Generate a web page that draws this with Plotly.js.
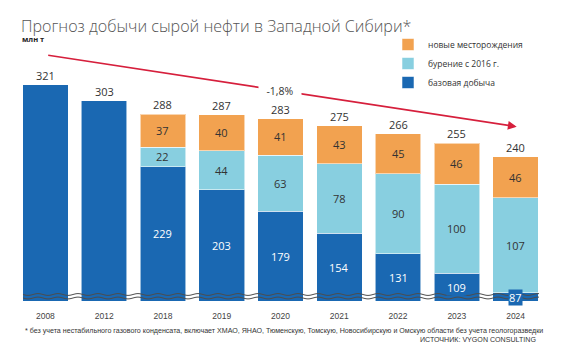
<!DOCTYPE html>
<html>
<head>
<meta charset="utf-8">
<script src="https://cdn.plot.ly/plotly-3.0.1.min.js"></script>
<style>html,body{margin:0;padding:0;background:#fff;}#chart{width:570px;height:358px;}</style>
</head>
<body>
<div id="chart"></div>
<script>
// ---- data ----
const years = ['2008', '2012', '2018', '2019', '2020', '2021', '2022', '2023', '2024'];
const baseProduction = [321, 303, 229, 203, 179, 154, 131, 109, 87];
const drillingSince2016 = [null, null, 22, 44, 63, 78, 90, 100, 107];
const newFields = [null, null, 37, 40, 41, 43, 45, 46, 46];
const totals = [321, 303, 288, 287, 283, 275, 266, 255, 240];
const seriesNames = ['базовая добыча', 'бурение с 2016 г.', 'новые месторождения'];
const trendLabel = '-1,8%';
const unitLabel = 'млн т';
const titleText = 'Прогноз добычи сырой нефти в Западной Сибири*';
const footnote = '* без учета нестабильного газового конденсата, включает ХМАО, ЯНАО, Тюменскую, Томскую, Новосибирскую и Омскую области без учета геологоразведки';
const sourceText = 'ИСТОЧНИК: VYGON CONSULTING';

// ---- styles ----
const colors = ['#1a68b2', '#88cfe0', '#f2a250'];
const textColors = ['#ffffff', '#333333', '#333333'];
const W = 570, H = 358;
const M = {l: 16, r: 25, t: 41, b: 57};
const yMin = 78, pxPerUnit = 0.89;
const plotH = H - M.t - M.b, plotW = W - M.l - M.r;
const yMax = yMin + plotH / pxPerUnit;
const px2x = px => (px - M.l) / plotW;
const px2y = py => (H - M.b - py) / plotH;
const numFont = {family: 'Open Sans, Noto Sans, sans-serif', size: 11};
const smallFont = 'Liberation Sans, Arial, sans-serif';

const series = [baseProduction, drillingSince2016, newFields];
const traces = series.map((vals, i) => ({
  type: 'bar', x: years, y: vals, name: seriesNames[i],
  marker: {color: colors[i], line: {color: 'rgba(255,255,255,0.55)', width: 1}},
  hoverinfo: 'skip'
}));

const annotations = [];
// segment labels (category axis: annotation x given as category index)
years.forEach((yr, j) => {
  let cum = 0;
  series.forEach((vals, i) => {
    const v = vals[j];
    if (v == null) return;
    const lo = Math.max(cum, yMin), hi = cum + v;
    cum = hi;
    if (vals === baseProduction && drillingSince2016[j] == null) return; // single bars show total only
    annotations.push({
      x: j, y: (lo + hi) / 2, xref: 'x', yref: 'y', text: String(v), showarrow: false,
      font: Object.assign({}, numFont, {color: textColors[i]}),
      bgcolor: i === 0 ? colors[0] : 'rgba(0,0,0,0)', borderpad: 0,
      xanchor: 'center', yanchor: 'middle'
    });
  });
  annotations.push({
    x: j, y: totals[j], xref: 'x', yref: 'y', text: String(totals[j]), showarrow: false,
    font: Object.assign({}, numFont, {color: '#333333'}), xanchor: 'center', yanchor: 'bottom', yshift: 0
  });
});

// trend arrow
const tail = [46.7, 55], head = [516.7, 126.7];
annotations.push({
  x: px2x(head[0]), y: px2y(head[1]), xref: 'paper', yref: 'paper', text: '',
  xanchor: 'center', yanchor: 'middle',
  showarrow: true, ax: tail[0] - head[0], ay: tail[1] - head[1],
  arrowcolor: '#d61f3c', arrowwidth: 1.6, arrowhead: 2, arrowsize: 1.1, standoff: 0
});
annotations.push({
  x: px2x(280), y: px2y(90.5), xref: 'paper', yref: 'paper', text: trendLabel, showarrow: false,
  xanchor: 'center', yanchor: 'middle',
  font: {family: 'Open Sans, sans-serif', size: 10.5, color: '#333'}, bgcolor: '#ffffff', width: 36, borderpad: 3
});
annotations.push({
  x: px2x(20), y: px2y(38.5), xref: 'paper', yref: 'paper', text: '<b>' + unitLabel + '</b>', showarrow: false,
  xanchor: 'left', yanchor: 'middle', font: {family: 'Open Sans, sans-serif', size: 7.5, color: '#222'}
});
annotations.push({
  x: px2x(23), y: px2y(331), xref: 'paper', yref: 'paper', text: footnote, showarrow: false,
  xanchor: 'left', yanchor: 'middle', font: {family: smallFont, size: 7.1, color: '#333'}
});
annotations.push({
  x: px2x(538), y: px2y(340), xref: 'paper', yref: 'paper', text: sourceText, showarrow: false,
  xanchor: 'right', yanchor: 'middle', font: {family: smallFont, size: 7.1, color: '#333'}
});

// axis-break wavy lines
function wave(py, x0, x1) {
  let d = '';
  for (let px = x0; px <= x1; px += 1) {
    const yy = py + 0.9 * Math.sin((px - x0) / 20 * 2 * Math.PI);
    d += (d ? ' L ' : 'M ') + px2x(px).toFixed(5) + ',' + px2y(yy).toFixed(5);
  }
  return d;
}
const shapes = [294.5, 298].map(py => ({
  type: 'path', xref: 'paper', yref: 'paper', path: wave(py, 23, 539),
  line: {color: '#4d4d4d', width: 1}
}));

const layout = {
  width: W, height: H, autosize: false,
  margin: M,
  paper_bgcolor: '#fff', plot_bgcolor: '#fff',
  barmode: 'stack', bargap: 0.225,
  showlegend: true,
  legend: {
    x: px2x(388), y: px2y(30), xanchor: 'left', yanchor: 'top', traceorder: 'reversed',
    font: {family: 'Open Sans, sans-serif', size: 8.5, color: '#333'}, bgcolor: 'rgba(0,0,0,0)'
  },
  title: {
    text: titleText, x: 21 / W, xref: 'container', xanchor: 'left',
    y: 1 - 31.5 / H, yref: 'container', yanchor: 'bottom',
    font: {family: 'Open Sans, sans-serif', size: 16.1, weight: 300, color: '#555'}
  },
  xaxis: {
    type: 'category', range: [-0.5, years.length - 0.5], showgrid: false, zeroline: false, showline: false, ticks: '',
    ticklabelstandoff: 8,
    tickfont: {family: smallFont, size: 8.5, color: '#444'}
  },
  yaxis: {
    range: [yMin, yMax], visible: false, showgrid: false, zeroline: false
  },
  annotations: annotations,
  shapes: shapes
};

Plotly.newPlot('chart', traces, layout, {displayModeBar: false, staticPlot: true});
</script>
</body>
</html>
